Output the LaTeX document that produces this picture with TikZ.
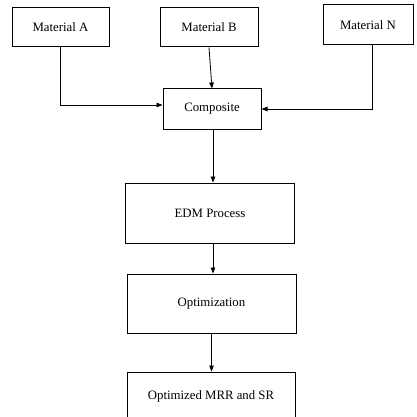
\documentclass[tikz,border=0pt]{standalone}
\usepackage{fontspec}
\setmainfont{Liberation Serif}
\usetikzlibrary{arrows.meta,positioning,calc}

\begin{document}
\begin{tikzpicture}[
        x=1pt,y=-1pt,
        ->,>={Triangle[length=6pt,width=4.5pt]},
        line width=0.8pt,
        font=\fontsize{12.8}{15}\selectfont
    ]

    \tikzstyle{block} = [rectangle,draw,inner sep=0pt,line width=1pt]

    \clip (0,0) rectangle (416,417);

    \node[block,minimum width=97pt,minimum height=39pt] (matA) at (60.5,27.5) {Material A};
    \node[block,minimum width=98pt,minimum height=39pt] (matB) at (209,27.5) {Material B};
    \node[block,minimum width=90pt,minimum height=40pt] (matN) at (368,25) {Material N};
    \node[block,minimum width=98pt,minimum height=40pt] (comp) at (212,109) {Composite};
    \node[block,minimum width=169pt,minimum height=60pt] (edm) at (210,213) {EDM Process};
    \node[block,minimum width=169pt,minimum height=59pt] (optim) at (211.5,303.5) {Optimization};
    \node[block,minimum width=168pt,minimum height=48pt] (result) at (211,396) {Optimized MRR and SR};

    \draw (matA.south) |- ([yshift=4pt]comp.west);
    \draw (matB.south) -- (comp.north);
    \draw ([xshift=4pt]matN.south) |- (comp.east);
    \draw ([xshift=1pt]comp.south) -- ([xshift=1pt]comp.south |- edm.north);
    \draw ([xshift=3pt]edm.south) -- ([xshift=3pt]edm.south |- optim.north);
    \draw (optim.south) -- (optim.south |- result.north);

\end{tikzpicture}
\end{document}
